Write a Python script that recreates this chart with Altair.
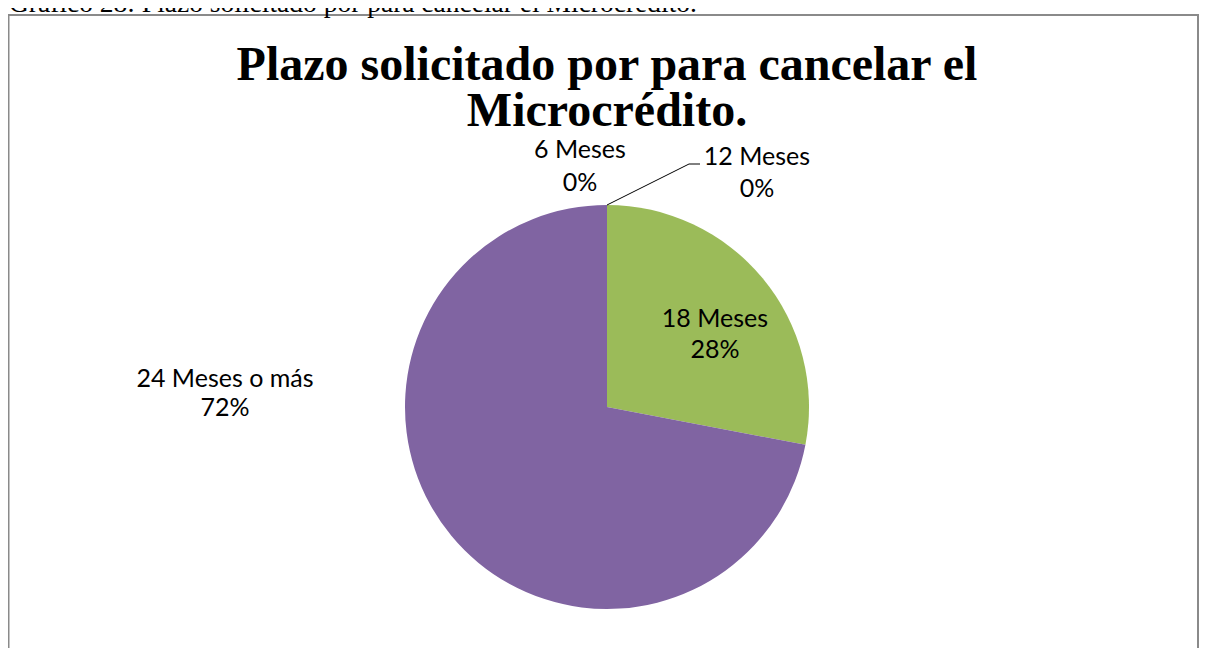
import altair as alt
import pandas as pd

# ---- data ----
categories = ["6 Meses", "12 Meses", "18 Meses", "24 Meses o más"]
values = [0, 0, 28, 72]
colors = ["#4F81BD", "#C0504D", "#9BBB59", "#8064A2"]
title_lines = ["Plazo solicitado por para cancelar el", "Microcrédito."]
caption = "Gráfico 28: Plazo solicitado por para cancelar el Microcrédito."

df = pd.DataFrame({"cat": categories, "value": values, "order": list(range(len(categories)))})

W, H = 1191, 640
CX, CY, R = 599, 399, 202

one = pd.DataFrame({"k": [0]})

border = alt.Chart(one).mark_rect(fillOpacity=0, stroke="#8a8a8a", strokeWidth=2).encode(
    x=alt.value(0.5), x2=alt.value(1190), y=alt.value(7), y2=alt.value(720)
)

pie = alt.Chart(df).mark_arc(radius=R).encode(
    theta=alt.Theta("value:Q", stack=True),
    color=alt.Color("cat:N", scale=alt.Scale(domain=categories, range=colors), legend=None),
    order=alt.Order("order:Q"),
    x=alt.value(CX),
    y=alt.value(CY),
)

# leader line for the "12 Meses" label (starts at the top edge of the pie)
leader1 = alt.Chart(one).mark_rule(color="black", strokeWidth=1).encode(
    x=alt.value(CX), y=alt.value(CY - R), x2=alt.value(CX + 82), y2=alt.value(CY - R - 41)
)
leader2 = alt.Chart(one).mark_rule(color="black", strokeWidth=1).encode(
    x=alt.value(CX + 82), y=alt.value(CY - R - 41), x2=alt.value(CX + 93), y2=alt.value(CY - R - 41)
)

label_offsets = [
    ("6 Meses", -27, -249, 33),
    ("12 Meses", 150, -242, 32),
    ("18 Meses", 108, -80, 31),
    ("24 Meses o más", -382, -20, 29),
]

labels = []
for cat, dx, dy, lh in label_offsets:
    labels.append(
        alt.Chart(df)
        .transform_joinaggregate(total="sum(value)")
        .transform_calculate(label="datum.cat + '\\n' + format(datum.value / datum.total, '.0%')")
        .transform_filter(alt.datum.cat == cat)
        .mark_text(font="Lato", fontSize=25, lineBreak="\n", lineHeight=lh, align="center",
                   baseline="alphabetic", dx=dx, dy=dy, color="#000000")
        .encode(text="label:N", x=alt.value(CX), y=alt.value(CY))
    )

title = alt.Chart(pd.DataFrame({"t": ["\n".join(title_lines)]})).mark_text(
    font="Liberation Serif", fontSize=48, fontWeight="bold", lineBreak="\n", lineHeight=46,
    align="center", baseline="alphabetic", color="#000000"
).encode(text="t:N", x=alt.value(CX), y=alt.value(72))

cap = alt.Chart(pd.DataFrame({"t": [caption]})).mark_text(
    font="Liberation Serif", fontSize=27.5, align="left", baseline="alphabetic", color="#000000"
).encode(text="t:N", x=alt.value(1), y=alt.value(4))

chart = alt.layer(border, pie, leader1, leader2, *labels, title, cap).properties(
    width=W, height=H, autosize=alt.AutoSizeParams(type="none"), padding=0
).configure_view(stroke=None)

chart.save("out.html", embed_options={"renderer": "svg", "actions": False})
